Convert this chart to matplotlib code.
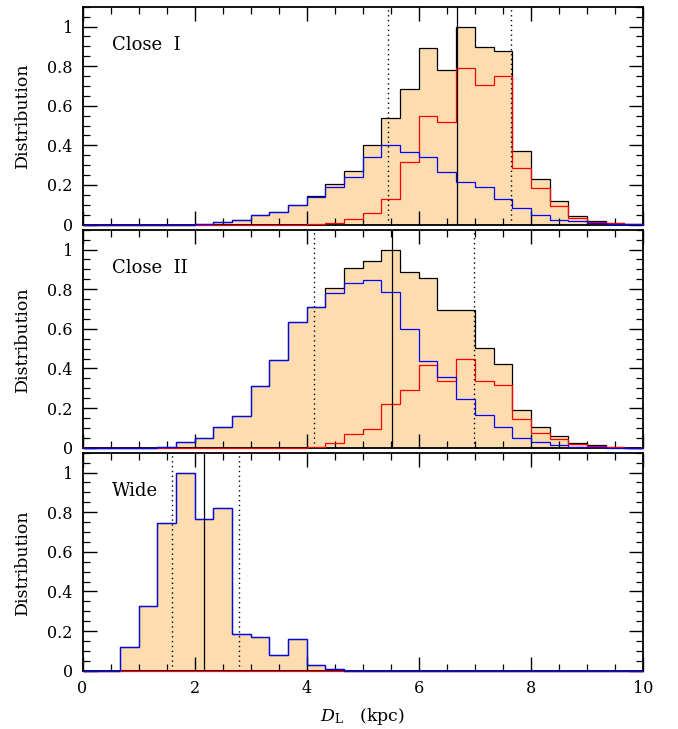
import numpy as np
import matplotlib
matplotlib.use("Agg")
import matplotlib.pyplot as plt
from matplotlib.ticker import MultipleLocator, FixedLocator

plt.rcParams['font.family'] = ['DejaVu Serif']
plt.rcParams['mathtext.fontset'] = 'dejavuserif'

# bin edges: 0 .. 10 kpc in steps of 1/3 kpc (30 bins)
edges = np.linspace(0, 10, 31)

# ---- Close I ----
close1_blue = [0, 0, 0, 0, 0, 0, 0.003, 0.012, 0.024, 0.047,
               0.061, 0.10, 0.139, 0.19, 0.239, 0.34, 0.40, 0.366, 0.342, 0.264,
               0.217, 0.19, 0.127, 0.085, 0.046, 0.024, 0.017, 0.007, 0.003, 0.002]
close1_red = [0, 0, 0, 0, 0, 0, 0, 0, 0, 0,
              0, 0, 0.003, 0.01, 0.03, 0.06, 0.13, 0.315, 0.547, 0.519,
              0.788, 0.707, 0.749, 0.285, 0.186, 0.095, 0.034, 0.015, 0.007, 0.002]
close1_total = [0, 0, 0, 0, 0, 0, 0.003, 0.012, 0.024, 0.047,
                0.061, 0.10, 0.142, 0.203, 0.27, 0.40, 0.536, 0.685, 0.89, 0.78,
                1.0, 0.898, 0.878, 0.371, 0.23, 0.119, 0.041, 0.019, 0.007, 0.003]
close1_lines = [5.45, 6.69, 7.64]

# ---- Close II ----
close2_blue = [0, 0, 0, 0, 0.005, 0.027, 0.05, 0.106, 0.16, 0.309,
               0.442, 0.633, 0.709, 0.783, 0.832, 0.846, 0.786, 0.597, 0.439, 0.358,
               0.245, 0.165, 0.106, 0.047, 0.029, 0.015, 0.005, 0.002, 0.001, 0]
close2_red = [0, 0, 0, 0, 0, 0, 0, 0, 0, 0,
              0, 0, 0.003, 0.025, 0.071, 0.095, 0.219, 0.29, 0.417, 0.336,
              0.45, 0.338, 0.317, 0.143, 0.074, 0.042, 0.02, 0.01, 0.003, 0.001]
close2_total = [0, 0, 0, 0, 0.005, 0.027, 0.05, 0.106, 0.16, 0.309,
                0.442, 0.633, 0.712, 0.807, 0.905, 0.94, 1.0, 0.886, 0.856, 0.694,
                0.697, 0.505, 0.422, 0.191, 0.103, 0.061, 0.024, 0.012, 0.004, 0.001]
close2_lines = [4.13, 5.53, 6.98]

# ---- Wide ----
wide_blue = [0, 0, 0.118, 0.326, 0.745, 1.0, 0.765, 0.823, 0.186, 0.169,
             0.078, 0.162, 0.027, 0.01, 0, 0, 0, 0, 0, 0,
             0, 0, 0, 0, 0, 0, 0, 0, 0, 0]
wide_red = [0] * 30
wide_total = list(wide_blue)
wide_lines = [1.60, 2.17, 2.80]

labels = ["Close  I", "Close  II", "Wide"]
panels = [
    (close1_total, close1_blue, close1_red, close1_lines),
    (close2_total, close2_blue, close2_red, close2_lines),
    (wide_total, wide_blue, wide_red, wide_lines),
]

fill_color = '#FDDDB0'

W, H = 678, 729
fig = plt.figure(figsize=(W / 100, H / 100), dpi=100)

left_px, right_px = 82.5, 643.0
tops = [6.7, 229.7, 452.7]
bottoms = [224.5, 447.7, 670.7]

yticklabels = ["0", "0.2", "0.4", "0.6", "0.8", "1"]
for i, (tot, blue, red, lines) in enumerate(panels):
    ax = fig.add_axes([left_px / W, 1 - bottoms[i] / H,
                       (right_px - left_px) / W, (bottoms[i] - tops[i]) / H])
    ax.stairs(tot, edges, fill=True, color=fill_color, lw=0, zorder=1)
    ax.stairs(tot, edges, color='black', lw=0.9, zorder=3, clip_on=False)
    ax.stairs(red, edges, color='red', lw=0.9, zorder=4, clip_on=False)
    ax.stairs(blue, edges, color='blue', lw=0.9, zorder=5, clip_on=False)
    ax.axvline(lines[1], color='black', lw=0.9, zorder=6)
    ax.axvline(lines[0], color='black', lw=1.0, ls=(0, (1, 2.5)), zorder=6)
    ax.axvline(lines[2], color='black', lw=1.0, ls=(0, (1, 2.5)), zorder=6)
    ax.set_xlim(0, 10)
    ax.set_ylim(0, 1.1)
    ax.xaxis.set_major_locator(MultipleLocator(2))
    ax.xaxis.set_minor_locator(MultipleLocator(0.5))
    ax.yaxis.set_major_locator(FixedLocator([0, 0.2, 0.4, 0.6, 0.8, 1.0]))
    ax.yaxis.set_minor_locator(MultipleLocator(0.05))
    ax.set_yticklabels(yticklabels)
    ax.tick_params(which='both', direction='in', top=True, right=True,
                   labelsize=11.5)
    ax.tick_params(which='major', length=10, width=1.0, pad=7)
    ax.tick_params(which='minor', length=5, width=0.9)
    for s in ax.spines.values():
        s.set_linewidth(1.3)
    if i < 2:
        ax.tick_params(labelbottom=False)
    else:
        ax.set_xlabel(r"$D_{\rm L}$   (kpc)", fontsize=12.5, labelpad=6)
    ax.set_ylabel("Distribution", fontsize=12.5, labelpad=12)
    ax.text(0.053, 0.826, labels[i], transform=ax.transAxes, fontsize=13,
            ha='left', va='center', zorder=7)

fig.savefig("out.png", dpi=100)
